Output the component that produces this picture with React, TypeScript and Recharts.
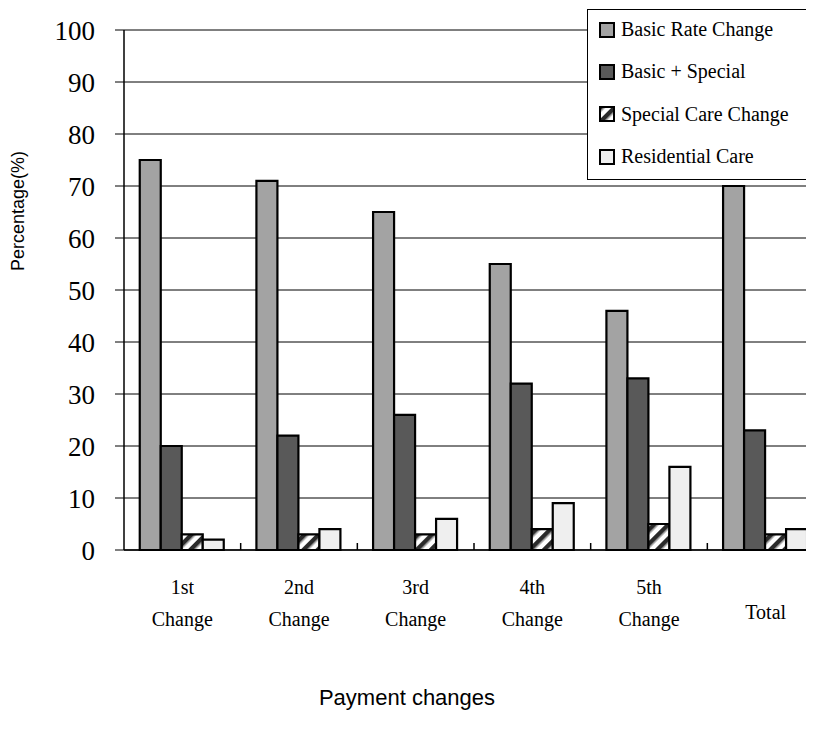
import React from "react";
import { Bar, BarChart, CartesianGrid, XAxis, YAxis } from "recharts";

// payment change categories and the share of each change type (%)
const categories = ["1st Change", "2nd Change", "3rd Change", "4th Change", "5th Change", "Total"];
const basicRate = [75, 71, 65, 55, 46, 70];
const basicSpecial = [20, 22, 26, 32, 33, 23];
const specialCare = [3, 3, 3, 4, 5, 3];
const residentialCare = [2, 4, 6, 9, 16, 4];
const yTicks = [0, 10, 20, 30, 40, 50, 60, 70, 80, 90, 100];

const series = [
  { key: "basicRate", name: "Basic Rate Change", fill: "#a3a3a3" },
  { key: "basicSpecial", name: "Basic + Special", fill: "#595959" },
  { key: "specialCare", name: "Special Care Change", fill: "url(#hatch)" },
  { key: "residential", name: "Residential Care", fill: "#efefef" },
];

const data = categories.map((name, i) => ({
  name,
  basicRate: basicRate[i],
  basicSpecial: basicSpecial[i],
  specialCare: specialCare[i],
  residential: residentialCare[i],
}));

const W = 830;
const H = 724;
const margin = { top: 22, right: 14, bottom: 82, left: 0 };
const Y_AXIS_W = 116;
const plotW = W - margin.left - margin.right - Y_AXIS_W;
const band = plotW / categories.length;

const serif = "'Liberation Serif', 'Times New Roman', serif";
const sans = "'Liberation Sans', Arial, sans-serif";

function HatchDef({ id }: { id: string }) {
  return (
    <pattern id={id} width={10} height={10} patternUnits="userSpaceOnUse" patternTransform="rotate(45)">
      <rect width={10} height={10} fill="#ffffff" />
      <rect x={0} width={4} height={10} fill="#2a2a2a" />
      <rect x={4} width={1.5} height={10} fill="#888888" />
    </pattern>
  );
}

function CategoryTick({ x, y, payload, index }: any) {
  const words = String(payload.value).split(" ");
  return (
    <g>
      {index > 0 && (
        <line x1={x - band / 2} x2={x - band / 2} y1={y - 7} y2={y} stroke="#000" strokeWidth={1.5} />
      )}
      {words.length === 1 ? (
        <text x={x} y={y + 69} textAnchor="middle" fontFamily={serif} fontSize={20} fill="#000">
          {words[0]}
        </text>
      ) : (
        <text textAnchor="middle" fontFamily={serif} fontSize={20} fill="#000">
          <tspan x={x} y={y + 44}>{words[0]}</tspan>
          <tspan x={x} y={y + 76}>{words[1]}</tspan>
        </text>
      )}
    </g>
  );
}

function LegendBox() {
  return (
    <div
      style={{
        position: "absolute",
        left: 579,
        top: 1,
        width: 260,
        height: 171,
        border: "1.5px solid #000",
        background: "#fff",
        boxSizing: "border-box",
      }}
    >
      {series.map((s, i) => (
        <div
          key={s.key}
          style={{
            position: "absolute",
            left: 11,
            top: -1.5 + i * 42.4,
            display: "flex",
            alignItems: "center",
            height: 42,
          }}
        >
          <svg width={16} height={16} style={{ marginRight: 6 }}>
            <defs>
              <HatchDef id="hatchLegend" />
            </defs>
            <rect
              x={1}
              y={1}
              width={14}
              height={14}
              fill={s.fill === "url(#hatch)" ? "url(#hatchLegend)" : s.fill}
              stroke="#000"
              strokeWidth={2}
            />
          </svg>
          <span style={{ fontFamily: serif, fontSize: 20, color: "#000", whiteSpace: "nowrap" }}>{s.name}</span>
        </div>
      ))}
    </div>
  );
}

export default function App() {
  return (
    <div style={{ position: "relative", width: 806, height: H, overflow: "hidden", background: "#fff" }}>
      <BarChart width={W} height={H} data={data} margin={margin} barCategoryGap="13.5%" barGap={0}>
        <defs>
          <HatchDef id="hatch" />
        </defs>
        <CartesianGrid vertical={false} stroke="#000" strokeWidth={1} />
        <XAxis
          dataKey="name"
          axisLine={{ stroke: "#000", strokeWidth: 1.5 }}
          tickLine={false}
          tickSize={0}
          tickMargin={0}
          height={100}
          interval={0}
          tick={<CategoryTick />}
        />
        <YAxis
          domain={[0, 100]}
          ticks={yTicks}
          width={Y_AXIS_W}
          axisLine={{ stroke: "#000", strokeWidth: 1.5 }}
          tickLine={{ stroke: "#000", strokeWidth: 1 }}
          tickSize={9}
          tickMargin={20}
          tick={{ fontFamily: serif, fontSize: 27, fill: "#000" }}
        />
        {series.map((s) => (
          <Bar
            key={s.key}
            dataKey={s.key}
            name={s.name}
            fill={s.fill}
            stroke="#000"
            strokeWidth={2.2}
            isAnimationActive={false}
          />
        ))}
      </BarChart>
      <LegendBox />
      <div
        style={{
          position: "absolute",
          left: 10,
          top: 203,
          transform: "translate(-50%, -50%) rotate(-90deg)",
          whiteSpace: "nowrap",
          fontFamily: sans,
          fontSize: 18,
          color: "#000",
        }}
      >
        Percentage(%)
      </div>
      <div
        style={{
          position: "absolute",
          left: 399,
          top: 690,
          transform: "translate(-50%, -50%)",
          whiteSpace: "nowrap",
          fontFamily: sans,
          fontSize: 22,
          color: "#000",
        }}
      >
        Payment changes
      </div>
    </div>
  );
}
